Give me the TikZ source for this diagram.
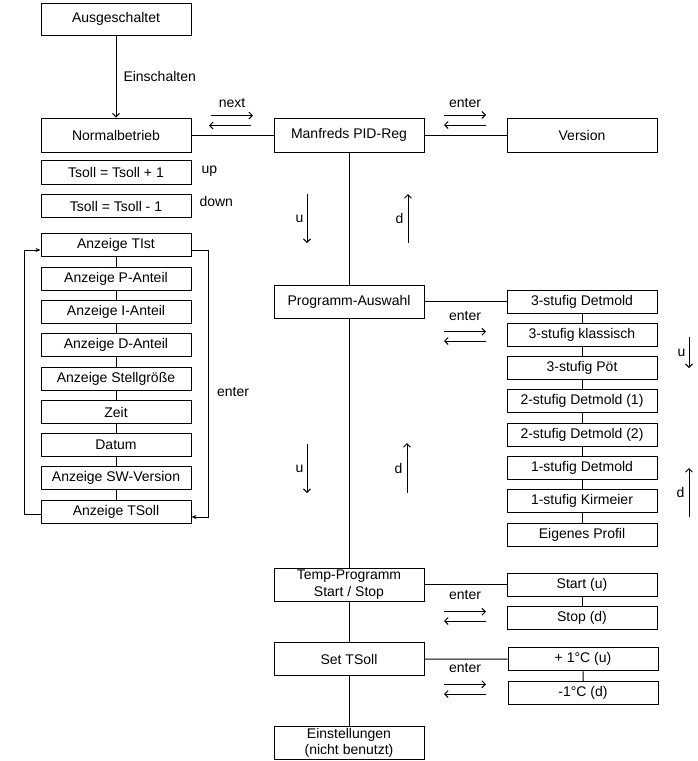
\documentclass[tikz,border=0pt]{standalone}
\usepackage{fontspec}
\setmainfont{Liberation Sans}
\usepackage{tikz}
\usetikzlibrary{arrows.meta}
\usetikzlibrary{calc}

\tikzset{
  box/.style={draw, minimum width=150pt, minimum height=33pt, inner sep=1pt, align=center},
  sbox/.style={box, minimum height=23pt},
  lab/.style={inner sep=2pt},
  tast/.style={-{Straight Barb[length=3.5pt,width=7pt]}},
  schleife/.style={-{Stealth[length=5pt,width=4pt]}}
}

\begin{document}
\begin{tikzpicture}[x=1pt, y=-1pt, line width=1pt, font=\fontsize{14}{16.5}\selectfont]
    \useasboundingbox (0,0) rectangle (698,761);

    % Ausgeschaltet und Normalbetrieb
    \node[box, minimum height=32pt] (aus) at (116,19) {Ausgeschaltet};
    \node[box, minimum height=34pt] (norm) at (116,135) {Normalbetrieb};
    \node[sbox, minimum height=24pt] (tplus) at (116,172) {Tsoll = Tsoll + 1};
    \node[sbox] (tminus) at (116,206) {Tsoll = Tsoll - 1};
    \node[lab, anchor=base west] (lup) at (199,173) {up};
    \node[lab, anchor=base west] (ldown) at (197,206) {down};
    \draw[tast] (aus) -- node[lab, right=5pt] (lein) {Einschalten} (norm);

    % Anzeige-Schleife links
    \node[sbox] (a1) at (116,245.3) {Anzeige TIst};
    \node[sbox] (a2) at (116,278.7) {Anzeige P-Anteil};
    \node[sbox] (a3) at (116,312) {Anzeige I-Anteil};
    \node[sbox] (a4) at (116,345.3) {Anzeige D-Anteil};
    \node[sbox] (a5) at (116,378.7) {Anzeige Stellgröße};
    \node[sbox] (a6) at (116,412) {Zeit};
    \node[sbox] (a7) at (116,444.7) {Datum};
    \node[sbox] (a8) at (116,478.3) {Anzeige SW-Version};
    \node[sbox] (a9) at (116,511.7) {Anzeige TSoll};
    \draw (a1) -- (a2) -- (a3) -- (a4) -- (a5) -- (a6) -- (a7) -- (a8) -- (a9);
    \draw[schleife] ([yshift=-2.6pt]a9.west) -- ++(-16,0) |- ([yshift=-4.7pt]a1.west);
    \draw[schleife] ([yshift=-4.7pt]a1.east) -- ++(17,0) |- ([yshift=-5.3pt]a9.east);
    \node[lab] (lenter) at (233,392) {enter};

    % Hauptmenue
    \node[box, minimum height=34pt] (manf) at (349,135) {Manfreds PID-Reg};
    \node[box, minimum height=34pt] (vers) at (582,135) {Version};
    \node[box] (prog) at (349,301.7) {Programm-Auswahl};
    \node[box] (temp) at (349,584.7) {Temp-Programm\\Start / Stop};
    \node[box] (sett) at (349,659) {Set TSoll};
    \node[box] (einst) at (349,743) {Einstellungen\\(nicht benutzt)};
    \draw (norm) -- (manf) -- (vers);
    \draw (manf) -- (prog) -- (temp) -- (sett) -- (einst);

    % Programme rechts
    \node[sbox] (r1) at (582,301.7) {3-stufig Detmold};
    \node[sbox] (r2) at (582,334.7) {3-stufig klassisch};
    \node[sbox] (r3) at (582,368.3) {3-stufig Pöt};
    \node[sbox] (r4) at (582,401.3) {2-stufig Detmold (1)};
    \node[sbox] (r5) at (582,434.7) {2-stufig Detmold (2)};
    \node[sbox] (r6) at (582,468) {1-stufig Detmold};
    \node[sbox] (r7) at (582,501.3) {1-stufig Kirmeier};
    \node[sbox] (r8) at (582,534.7) {Eigenes Profil};
    \draw (prog) -- (r1);
    \draw (r1) -- (r2) -- (r3) -- (r4) -- (r5) -- (r6) -- (r7) -- (r8);

    % Start / Stop und Sollwert
    \node[sbox] (start) at (582,584.7) {Start (u)};
    \node[sbox] (stop) at (582,618) {Stop (d)};
    \node[sbox] (gplus) at (583,659.3) {+ 1°C (u)};
    \node[sbox] (gminus) at (583,693) {-1°C (d)};
    \draw (temp) -- (start) -- (stop);
    \draw (sett) -- (gplus) -- (gminus);

    % Tasten next / enter
    \draw[tast] (211,115.5) -- node[lab, above=5pt] (lnext) {next} ++(42,0);
    \draw[tast] (251,125.5) -- ++(-42,0);
    \draw[tast] (444,115) -- node[lab, above=5pt] (lent1) {enter} ++(42,0);
    \draw[tast] (486,125) -- ++(-42,0);
    \draw[tast] (444,331.7) -- node[lab, above=9pt] (lent2) {enter} ++(42,0);
    \draw[tast] (486,341) -- ++(-42,0);
    \draw[tast] (444,611.7) -- node[lab, above=9.7pt] (lent3) {enter} ++(42,0);
    \draw[tast] (486,621) -- ++(-42,0);
    \draw[tast] (444,684.3) -- node[lab, above=9pt] (lent4) {enter} ++(42,0);
    \draw[tast] (486,694) -- ++(-42,0);

    % Tasten u / d
    \draw[tast] (307,194) -- node[lab, left=1pt] (lu1) {u} (307,243);
    \draw[tast] (408,243) -- node[lab, left=2pt] (ld1) {d} (408,194);
    \draw[tast] (307,444) -- node[lab, left=1pt] (lu2) {u} (307,493);
    \draw[tast] (407,493) -- node[lab, left=2pt] (ld2) {d} (407,443);
    \draw[tast] (689,337) -- node[lab, left=1pt] (lu3) {u} (689,368);
    \draw[tast] (689,517) -- node[lab, left=2pt] (ld3) {d} (689,468);
\end{tikzpicture}
\end{document}
